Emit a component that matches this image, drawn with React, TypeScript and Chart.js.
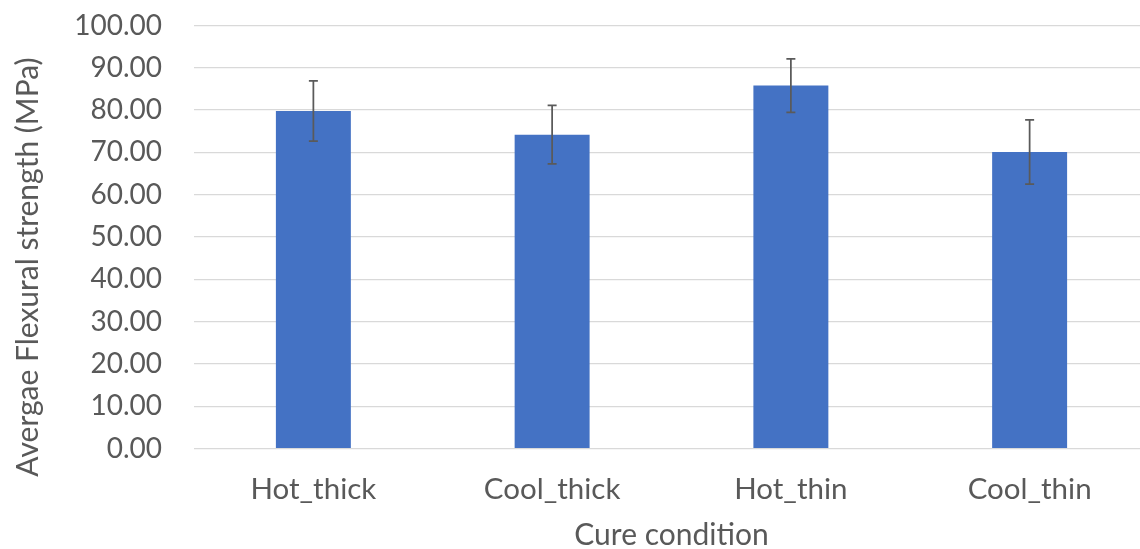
import React, { useEffect, useRef } from "react";
import { Chart, registerables } from "chart.js";

Chart.register(...registerables);

const categories = ["Hot_thick", "Cool_thick", "Hot_thin", "Cool_thin"];
const meanStrength = [79.8, 74.2, 85.8, 70.1];
const errorStrength = [7.1, 6.9, 6.3, 7.6];
const yTitle = "Avergae Flexural strength (MPa)";
const xTitle = "Cure condition";

const FONT = "Lato, 'Open Sans', sans-serif";
const TEXT = "#595959";

const errorBarPlugin = {
  id: "errorBars",
  afterDatasetsDraw(chart: any) {
    const { ctx } = chart;
    const xs = chart.scales.x;
    const ys = chart.scales.y;
    ctx.save();
    ctx.strokeStyle = "#5a5a5a";
    ctx.lineWidth = 1.75;
    meanStrength.forEach((m, i) => {
      const x = xs.getPixelForValue(i);
      const t = ys.getPixelForValue(m + errorStrength[i]);
      const b = ys.getPixelForValue(m - errorStrength[i]);
      ctx.beginPath();
      ctx.moveTo(x, t);
      ctx.lineTo(x, b);
      ctx.moveTo(x - 4.5, t);
      ctx.lineTo(x + 4.5, t);
      ctx.moveTo(x - 4.5, b);
      ctx.lineTo(x + 4.5, b);
      ctx.stroke();
    });
    ctx.restore();
  },
};

const titlesPlugin = {
  id: "axisTitles",
  afterDraw(chart: any) {
    const { ctx, chartArea } = chart;
    ctx.save();
    ctx.font = `30px ${FONT}`;
    ctx.fillStyle = TEXT;
    ctx.textAlign = "center";
    ctx.textBaseline = "alphabetic";
    ctx.fillText(xTitle, (chartArea.left + chartArea.right) / 2, 545);
    ctx.translate(28, 267);
    ctx.rotate(-Math.PI / 2);
    ctx.textBaseline = "middle";
    ctx.fillText(yTitle, 0, 0);
    ctx.restore();
  },
};

export default function App() {
  const ref = useRef<HTMLCanvasElement>(null);
  useEffect(() => {
    if (!ref.current) return;
    const chart = new Chart(ref.current, {
      type: "bar",
      data: {
        labels: categories,
        datasets: [
          {
            data: meanStrength,
            backgroundColor: "#4472C4",
            categoryPercentage: 1,
            barPercentage: 0.314,
          },
        ],
      },
      options: {
        responsive: false,
        animation: false,
        devicePixelRatio: 1,
        layout: { padding: { top: 25.5, right: 1, left: 0, bottom: 0 } },
        plugins: { legend: { display: false }, tooltip: { enabled: false } },
        scales: {
          x: {
            grid: { display: false },
            border: { display: false },
            ticks: {
              color: TEXT,
              font: { family: FONT, size: 29.5 },
              padding: 15,
            },
            afterFit(scale: any) {
              scale.height = 100.3;
              scale.paddingLeft = 0;
              scale.paddingRight = 0;
            },
          },
          y: {
            min: 0,
            max: 100,
            grid: { color: "#d9d9d9", lineWidth: 1.3, drawTicks: false },
            border: { display: false },
            ticks: {
              stepSize: 10,
              color: TEXT,
              font: { family: FONT, size: 28 },
              padding: 32,
              callback: (v: any) => Number(v).toFixed(2),
            },
            afterFit(scale: any) {
              scale.width = 194;
              scale.paddingTop = 0;
              scale.paddingBottom = 0;
            },
          },
        },
      },
      plugins: [errorBarPlugin, titlesPlugin],
    });
    return () => chart.destroy();
  }, []);
  return (
    <div
      style={{
        position: "fixed",
        left: 0,
        top: 0,
        width: 1140,
        height: 549,
        overflow: "hidden",
        background: "#fff",
      }}
    >
      <canvas ref={ref} width={1150} height={549} style={{ display: "block" }} />
    </div>
  );
}
